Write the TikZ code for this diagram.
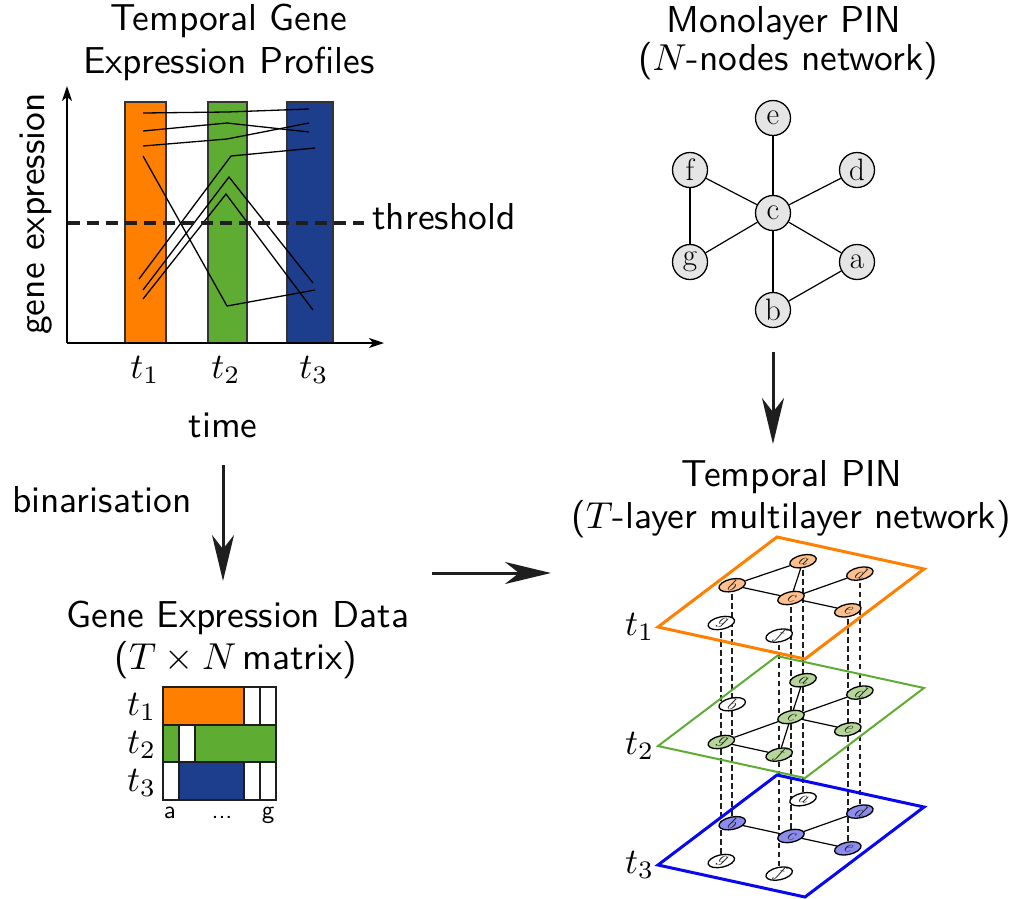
\RequirePackage{fix-cm}
\documentclass[tikz,border=0pt]{standalone}
\usetikzlibrary{arrows.meta,backgrounds}

\definecolor{cOrange}{RGB}{255,127,0}
\definecolor{cGreen}{RGB}{94,172,50}
\definecolor{cNavy}{RGB}{29,62,140}
\definecolor{lOrange}{RGB}{253,192,140}
\definecolor{lGreen}{RGB}{181,214,152}
\definecolor{lBlue}{RGB}{140,140,238}
\definecolor{cBlue}{RGB}{8,8,240}
\definecolor{ink}{RGB}{30,30,30}

\begin{document}
\begin{tikzpicture}[x=1pt,y=-1pt,
  txt/.style={font=\sffamily\fontsize{10}{12}\selectfont, scale=3.75, transform shape,
    anchor=base, inner sep=0pt},
  small/.style={font=\sffamily\fontsize{10}{12}\selectfont, scale=2.5, transform shape,
    anchor=base, inner sep=0pt},
  tlab/.style={font=\fontsize{10}{12}\selectfont, scale=3.6, transform shape, inner sep=0pt},
  bigarrow/.style={line width=3pt, draw=ink, -{Stealth[length=46pt,width=22pt,inset=14pt]}},
  axis/.style={line width=1.6pt, -{Stealth[length=15pt,width=10pt,inset=4pt]}},
  bar/.style={draw=black!80, line width=1.6pt},
  curve/.style={line width=1.3pt},
  cell/.style={draw=ink, line width=2pt},
  mnode/.style={circle, draw, fill=gray!20, line width=1.3pt, minimum size=35pt,
    inner sep=0pt, font=\rmfamily\fontsize{31}{33}\selectfont},
  lnode/.style={circle, draw, fill=white, line width=1.3pt, minimum size=21pt,
    inner sep=0pt, transform shape},
  ltext/.style={font=\rmfamily\itshape\fontsize{18}{18}\selectfont, inner sep=0pt,
    text=ink, transform shape, cm={0.966,-0.259,0.53,0.85,(0,0)}},
  edge/.style={line width=1.2pt},
  vdash/.style={line width=1.7pt, draw=ink, dash pattern=on 5.5pt off 3.5pt},
  plane/.style={line width=#1},
]
\useasboundingbox (0,0) rectangle (1010,898);

% ---------------- temporal gene expression profiles ----------------
\node[txt] (tg1) at (229,30) {Temporal Gene};
\node[txt] (tg2) at (229,73) {Expression Profiles};

\fill[cOrange] (125,102) rectangle (166,343);
\fill[cGreen]  (208,102) rectangle (247,343);
\fill[cNavy]   (287,102) rectangle (333,343);
\draw[bar] (125,102) rectangle (166,343);
\draw[bar] (208,102) rectangle (247,343);
\draw[bar] (287,102) rectangle (333,343);

\draw[axis] (67,343) -- (67,86);
\draw[axis] (67,343) -- (384,343);

\draw[curve] (143,113) -- (227,112) -- (309,109);
\draw[curve] (143,131) -- (227,123) -- (309,132);
\draw[curve] (143,146) -- (227,139) -- (309,123);
\draw[curve] (143,156) -- (227,306) -- (315,290);
\draw[curve] (139,279) -- (231,156) -- (315,148);
\draw[curve] (143,290) -- (229,177) -- (313,283);
\draw[curve] (143,299) -- (226,194) -- (313,310);

\draw[line width=3.5pt, draw=ink, dash pattern=on 12pt off 7pt] (68,223) -- (364,223);
\node[txt] (thr) at (444,229) {threshold};

\node[txt, rotate=90] (gexp) at (45,214) {gene expression};
\node[tlab, anchor=base] (x1) at (145,378) {$t_1$};
\node[tlab, anchor=base] (x2) at (226,378) {$t_2$};
\node[tlab, anchor=base] (x3) at (314,378) {$t_3$};
\node[txt] (time) at (223,437) {time};

% ---------------- binarisation ----------------
\coordinate (b0) at (223,465);
\coordinate (b1) at (223,581);
\draw[bigarrow] (b0) -- (b1);
\node[txt] (bin) at (102,512) {binarisation};

\node[txt] (gd1) at (238,627) {Gene Expression Data};
\node[txt] (gd2) at (236,669) {($T\times N$\,matrix)};

% T x N matrix
\draw[cell, fill=cOrange] (163,687) rectangle (243.7,724.7);
\draw[cell, fill=white]   (243.7,687) rectangle (259.9,724.7);
\draw[cell, fill=white]   (259.9,687) rectangle (276,724.7);
\draw[cell, fill=cGreen]  (163,724.7) rectangle (179.1,762.3);
\draw[cell, fill=white]   (179.1,724.7) rectangle (195.3,762.3);
\draw[cell, fill=cGreen]  (195.3,724.7) rectangle (276,762.3);
\draw[cell, fill=white]   (163,762.3) rectangle (179.1,800);
\draw[cell, fill=cNavy]   (179.1,762.3) rectangle (243.7,800);
\draw[cell, fill=white]   (243.7,762.3) rectangle (259.9,800);
\draw[cell, fill=white]   (259.9,762.3) rectangle (276,800);

\node[tlab, anchor=east] (m1) at (157,707) {$t_1$};
\node[tlab, anchor=east] (m2) at (157,745) {$t_2$};
\node[tlab, anchor=east] (m3) at (157,783) {$t_3$};
\node[small] (ca) at (170,818) {a};
\node[small] (cd) at (222,818) {...};
\node[small] (cg) at (268,818) {g};

% ---------------- monolayer PIN ----------------
\node[txt] (mp1) at (784,32) {Monolayer PIN};
\node[txt] (mp2) at (788,70) {($N$-nodes network)};

\node[mnode] (e) at (773,118) {e};
\node[mnode] (f) at (690,170) {f};
\node[mnode] (d) at (857,170) {d};
\node[mnode] (c) at (773,213) {c};
\node[mnode] (g) at (690,262) {g};
\node[mnode] (a) at (857,262) {a};
\node[mnode] (b) at (773,310) {b};
\draw[edge] (c) -- (e);
\draw[edge] (c) -- (f);
\draw[edge] (c) -- (d);
\draw[edge] (c) -- (g);
\draw[edge] (c) -- (a);
\draw[edge] (c) -- (b);
\draw[edge] (f) -- (g);
\draw[edge] (a) -- (b);

\coordinate (m0) at (773,352);
\coordinate (mt) at (773,444);
\draw[bigarrow] (m0) -- (mt);

\coordinate (h0) at (432,573);
\coordinate (h1) at (551,573);
\draw[bigarrow] (h0) -- (h1);

% ---------------- temporal PIN ----------------
\node[txt] (tp1) at (792,486) {Temporal PIN};
\node[txt] (tp2) at (791,528) {($T$-layer multilayer network)};

% layer t1
\begin{scope}[x=1pt,y=1pt,cm={0.98,-0.2133,0.7933,0.6,(658pt,-627pt)}]
  \draw[plane=3pt, cOrange] (0,0) -- (150,0) -- (150,150) -- (0,150) -- cycle;
  \coordinate (L1) at (0,0);
  \node[lnode, fill=lOrange] (a1) at (46,126) {};
  \node[lnode, fill=lOrange] (d1) at (104,126) {};
  \node[lnode, fill=lOrange] (b1) at (15,75) {};
  \node[lnode, fill=lOrange] (c1) at (75,75) {};
  \node[lnode, fill=lOrange] (e1) at (133,75) {};
  \node[lnode] (g1) at (46,23) {};
  \node[lnode] (f1) at (105,23) {};
  \draw[edge] (b1) -- (a1);
  \draw[edge] (b1) -- (c1);
  \draw[edge] (a1) -- (c1);
  \draw[edge] (c1) -- (d1);
  \draw[edge] (c1) -- (e1);
\end{scope}

% layer t2
\begin{scope}[x=1pt,y=1pt,cm={0.98,-0.2133,0.7933,0.6,(658pt,-746pt)}]
  \draw[plane=2pt, cGreen] (0,0) -- (150,0) -- (150,150) -- (0,150) -- cycle;
  \coordinate (L2) at (0,0);
  \node[lnode, fill=lGreen] (a2) at (46,126) {};
  \node[lnode, fill=lGreen] (d2) at (104,126) {};
  \node[lnode] (b2) at (15,75) {};
  \node[lnode, fill=lGreen] (c2) at (75,75) {};
  \node[lnode, fill=lGreen] (e2) at (133,75) {};
  \node[lnode, fill=lGreen] (g2) at (46,23) {};
  \node[lnode, fill=lGreen] (f2) at (105,23) {};
  \draw[edge] (a2) -- (c2);
  \draw[edge] (c2) -- (d2);
  \draw[edge] (c2) -- (e2);
  \draw[edge] (c2) -- (f2);
  \draw[edge] (c2) -- (g2);
  \draw[edge] (g2) -- (f2);
\end{scope}

% layer t3
\begin{scope}[x=1pt,y=1pt,cm={0.98,-0.2133,0.7933,0.6,(658pt,-865pt)}]
  \draw[plane=3pt, cBlue] (0,0) -- (150,0) -- (150,150) -- (0,150) -- cycle;
  \coordinate (L3) at (0,0);
  \node[lnode] (a3) at (46,126) {};
  \node[lnode, fill=lBlue] (d3) at (104,126) {};
  \node[lnode, fill=lBlue] (b3) at (15,75) {};
  \node[lnode, fill=lBlue] (c3) at (75,75) {};
  \node[lnode, fill=lBlue] (e3) at (133,75) {};
  \node[lnode] (g3) at (46,23) {};
  \node[lnode] (f3) at (105,23) {};
  \draw[edge] (b3) -- (c3);
  \draw[edge] (c3) -- (d3);
  \draw[edge] (c3) -- (e3);
\end{scope}

% node letters, lying in the tilted planes
\foreach \k in {1,2,3}
  \foreach \n in {a,b,c,d,e,f,g}
    \node[ltext] (\n\k t) at (\n\k.center) {\n};

% inter-layer couplings
\begin{scope}[on background layer]
  \foreach \n in {a,b,c,d,e,f,g}
    \draw[vdash] (\n1.center) -- (\n3.center);
\end{scope}

\node[tlab, anchor=east] (l1) at ([xshift=-3pt]L1) {$t_1$};
\node[tlab, anchor=east] (l2) at ([xshift=-3pt]L2) {$t_2$};
\node[tlab, anchor=east] (l3) at ([xshift=-3pt]L3) {$t_3$};
\end{tikzpicture}
\end{document}
